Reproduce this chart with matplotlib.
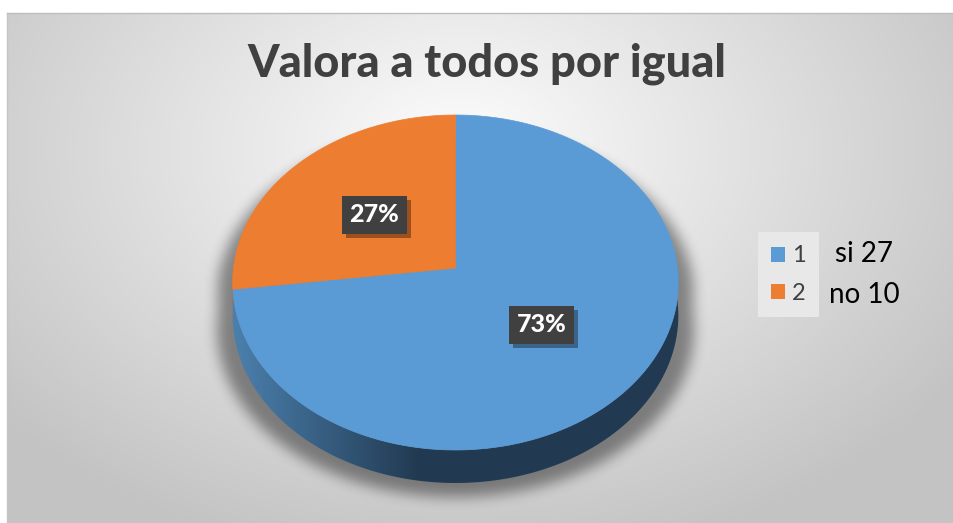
import numpy as np
import matplotlib.pyplot as plt
from matplotlib.patches import Polygon, Rectangle
from matplotlib.path import Path
import matplotlib.patheffects as pe

# data
categories = ['1', '2']
counts = [27, 10]
notes = ['si 27', 'no 10']
title = 'Valora a todos por igual'

top_colors = ['#5B9BD5', '#ED7D31']
side_light = ['#4b80ae', '#c06824']
side_dark = ['#223a51', '#7d4218']

plt.rcParams['font.family'] = ['Lato', 'DejaVu Sans']

W, H = 954, 523
fig = plt.figure(figsize=(W / 100, H / 100), dpi=100)
ax = fig.add_axes([0, 0, 1, 1])
ax.set_xlim(0, W)
ax.set_ylim(H, 0)
ax.axis('off')

# radial grey background of the chart area
yy, xx = np.mgrid[0:H, 0:W] + 0.5
r = np.hypot((xx - 460) / 600, (yy - 150) / 420)
bg = 253 - 58 * np.clip(r, 0, 1)
bg[(yy < 13) | (xx < 7)] = 255
ax.imshow(np.dstack([bg] * 3) / 255, extent=(0, W, H, 0), aspect='auto',
          interpolation='bilinear', zorder=0)
ax.plot([7, W], [13, 13], color='#bdbdbd', lw=1, zorder=0.5)
ax.plot([7, 7], [13, H], color='#c4c4c4', lw=1, zorder=0.5)

# perspective of the tilted pie (screen pixels)
CX, RX = 455.5, 222
TOP, MID, BOT = 115, 268, 450
DEPTH = 33
C = (2 * MID - TOP - BOT) / (TOP - BOT)
A = TOP * (C + 1) - MID


def proj(u, v):
    w = 1 + C * v
    return CX + RX * u / w, (A * v + MID) / w


# wedge angles, clockwise from 12 o'clock
vals = np.array(counts, dtype=float)
fracs = vals / vals.sum()
theta2 = 90 - 360 * np.concatenate([[0], np.cumsum(fracs)[:-1]])
theta1 = theta2 - 360 * fracs

# soft shadow under the pie
t = np.radians(np.linspace(0, 360, 361))
sx, sy = proj(np.cos(t), np.sin(t))
sy = np.where(np.sin(t) < 0, sy + DEPTH, sy)
sh_x = CX + (sx - CX) * 1.07
sh_y = sy + 14
mask = Path(np.column_stack([sh_x, sh_y])).contains_points(
    np.column_stack([xx.ravel(), yy.ravel()])).reshape(H, W).astype(float)
k = 6
kern = np.ones(2 * k + 1) / (2 * k + 1)
for _ in range(3):
    mask = np.apply_along_axis(lambda m: np.convolve(m, kern, 'same'), 1, mask)
    mask = np.apply_along_axis(lambda m: np.convolve(m, kern, 'same'), 0, mask)
shadow = np.zeros((H, W, 4))
shadow[..., 3] = 0.42 * mask
ax.imshow(shadow, extent=(0, W, H, 0), aspect='auto', zorder=1)

# side walls (front half only)
for i in range(len(counts)):
    lo, hi = max(theta1[i], -180), min(theta2[i], 0)
    if hi <= lo:
        continue
    ts = np.radians(np.linspace(lo, hi, 120))
    wx, wy = proj(np.cos(ts), np.sin(ts))
    poly = Polygon(np.column_stack([np.r_[wx, wx[::-1]], np.r_[wy, wy[::-1] + DEPTH]]),
                   closed=True, facecolor='none', edgecolor='none')
    ax.add_patch(poly)
    f = np.clip((xx[0] - (CX - RX)) / 185, 0, 1)
    c0 = np.array(plt.matplotlib.colors.to_rgb(side_light[i]))
    c1 = np.array(plt.matplotlib.colors.to_rgb(side_dark[i]))
    row = c0[None, :] * (1 - f[:, None]) + c1[None, :] * f[:, None]
    grad = np.repeat(row[None, :, :], H, axis=0)
    im = ax.imshow(grad, extent=(0, W, H, 0), aspect='auto', zorder=2)
    im.set_clip_path(poly)

# top faces
for i in range(len(counts)):
    ts = np.radians(np.linspace(theta1[i], theta2[i], 200))
    px, py = proj(np.cos(ts), np.sin(ts))
    ox, oy = proj(0, 0)
    ax.add_patch(Polygon(np.column_stack([np.r_[ox, px], np.r_[oy, py]]), closed=True,
                         facecolor=top_colors[i], edgecolor=top_colors[i], lw=0.5, zorder=3))

# data labels
for i in range(len(counts)):
    mid = np.radians((theta1[i] + theta2[i]) / 2)
    lx, ly = proj(0.5 * np.cos(mid), 0.5 * np.sin(mid))
    txt = ax.text(lx, ly, f'{fracs[i] * 100:.0f}%', ha='center', va='center',
                  color='white', fontsize=18, fontweight='black', zorder=6,
                  bbox=dict(boxstyle='square,pad=0.3', facecolor='#404040',
                            edgecolor='none'))
    txt.get_bbox_patch().set_path_effects(
        [pe.SimplePatchShadow(offset=(3, -3), shadow_rgbFace='black', alpha=0.35),
         pe.Normal()])

# title
ax.text(487, 64, title, ha='center', va='center', fontsize=32.5,
        fontweight='black', color='#404040', zorder=6)

# legend
handles = [Rectangle((0, 0), 1, 1, facecolor=c, edgecolor='none') for c in top_colors]
leg = ax.legend(handles, categories, loc='center', bbox_to_anchor=(788.5 / W, 1 - 274.5 / H),
                fontsize=17, frameon=True, fancybox=False, framealpha=1,
                facecolor='#e8e8e8', edgecolor='none', handlelength=0.59,
                handleheight=0.59, handletextpad=0.3, labelspacing=0.68,
                borderpad=0.55)
for tx in leg.get_texts():
    tx.set_color('#404040')

for i, note in enumerate(notes):
    ax.text(864, 254 + 41 * i, note, ha='center', va='center', fontsize=20,
            color='black', zorder=6)

fig.savefig('out.png', dpi=100)
